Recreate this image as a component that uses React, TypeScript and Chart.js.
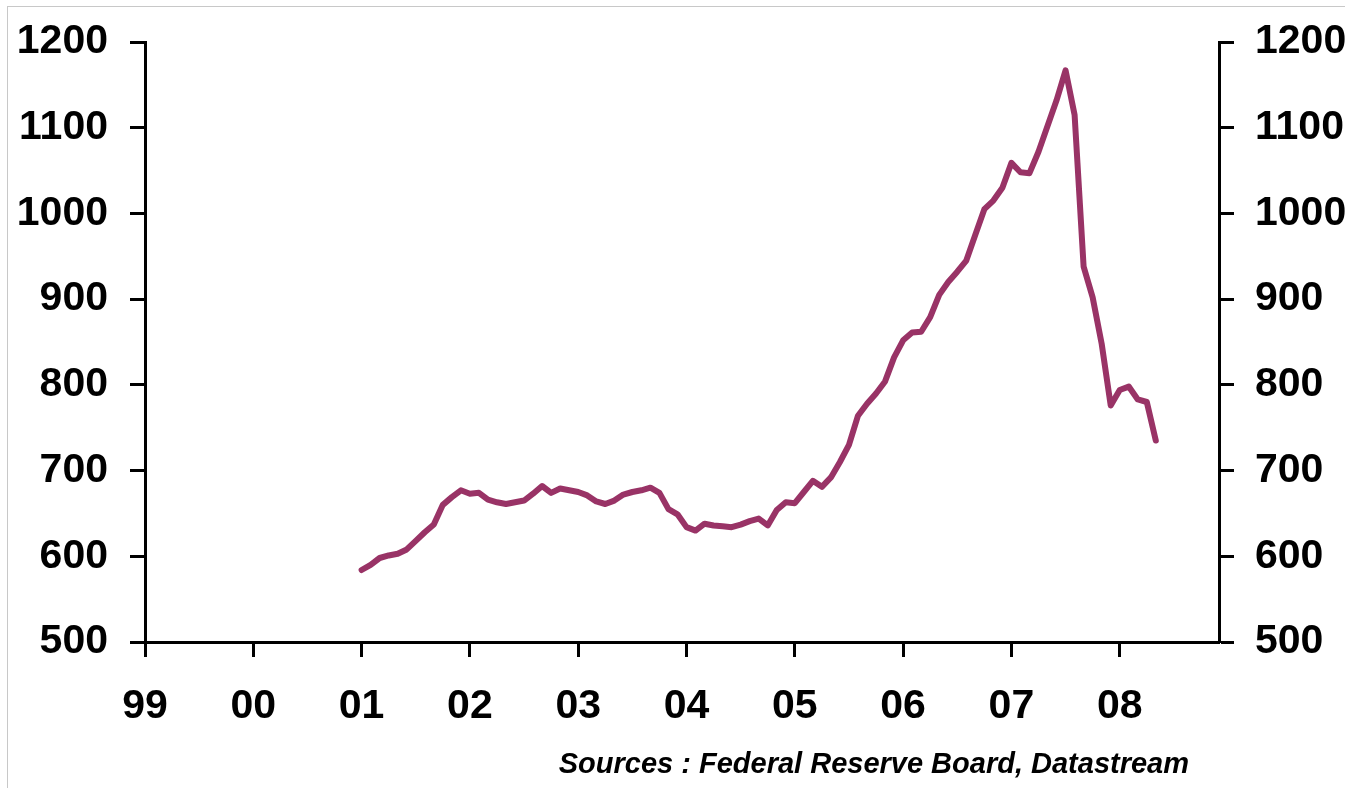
import React, { useEffect, useRef } from "react";
import { Chart, registerables } from "chart.js";

Chart.register(...registerables);

// Tick labels of the x axis (one per January, months counted from Jan 1999)
const yearLabels = ["99", "00", "01", "02", "03", "04", "05", "06", "07", "08"];
// Left / right axis ticks
const yTickValues = [500, 600, 700, 800, 900, 1000, 1100, 1200];
const yMin = 500;
const yMax = 1200;
// month index of the first observation (Jan 2001) and last month on the axis (Dec 2008)
const firstMonthIndex = 24;
const lastAxisMonth = 119;

// Monthly series, Jan 2001 .. May 2008
const values2001 = [584, 590, 598, 601, 603, 608, 618, 628, 637, 660, 669, 677];
const values2002 = [673, 674, 666, 663, 661, 663, 665, 673, 682, 674, 679, 677];
const values2003 = [675, 671, 664, 661, 665, 672, 675, 677, 680, 674, 655, 649];
const values2004 = [634, 630, 638, 636, 635, 634, 637, 641, 644, 636, 654, 663];
const values2005 = [662, 675, 688, 681, 692, 710, 730, 764, 778, 790, 804, 832];
const values2006 = [852, 861, 862, 879, 905, 920, 932, 945, 975, 1005, 1015, 1030];
const values2007 = [1059, 1048, 1047, 1072, 1102, 1132, 1167, 1115, 938, 902, 848, 776];
const values2008 = [794, 798, 783, 780, 735];

const seriesValues = [
  ...values2001,
  ...values2002,
  ...values2003,
  ...values2004,
  ...values2005,
  ...values2006,
  ...values2007,
  ...values2008,
];

const FONT_FAMILY = '"Liberation Sans", Arial, Helvetica, sans-serif';
const W = 1345;
const H = 788;

export default function App() {
  const canvasRef = useRef<HTMLCanvasElement | null>(null);

  useEffect(() => {
    const canvas = canvasRef.current;
    if (!canvas) return;

    const tickFont = { family: FONT_FAMILY, size: 41, weight: "bold" as const };
    const gridCommon = {
      drawOnChartArea: false,
      drawTicks: true,
      tickLength: 15,
      tickWidth: 3,
      tickColor: "#000000",
    };
    const borderCommon = { display: true, color: "#000000", width: 3 };

    const yAxis = (position: "left" | "right", width: number) => ({
      type: "linear" as const,
      position,
      min: yMin,
      max: yMax,
      grid: gridCommon,
      border: borderCommon,
      afterBuildTicks: (scale: any) => {
        scale.ticks = yTickValues.map((v) => ({ value: v }));
      },
      ticks: {
        font: tickFont,
        color: "#000000",
        padding: position === "left" ? 22 : 21,
        callback: (value: any) => String(value),
      },
      afterFit: (scale: any) => {
        scale.width = width;
        scale.paddingTop = 0;
        scale.paddingBottom = 0;
      },
    });

    const chart = new Chart(canvas, {
      type: "line",
      data: {
        datasets: [
          {
            data: seriesValues.map((v, i) => ({ x: firstMonthIndex + i, y: v })),
            borderColor: "#993366",
            borderWidth: 6,
            pointRadius: 0,
            tension: 0,
            fill: false,
            yAxisID: "y",
            xAxisID: "x",
            borderJoinStyle: "round",
            borderCapStyle: "round",
          },
        ],
      },
      options: {
        animation: false,
        responsive: false,
        maintainAspectRatio: false,
        events: [],
        layout: { padding: { top: 42, left: 0, right: 0, bottom: 0 } },
        plugins: {
          legend: { display: false },
          tooltip: { enabled: false },
          title: { display: false },
        },
        scales: {
          x: {
            type: "linear",
            position: "bottom",
            min: 0,
            max: lastAxisMonth,
            grid: gridCommon,
            border: borderCommon,
            afterBuildTicks: (scale: any) => {
              scale.ticks = yearLabels.map((_, i) => ({ value: i * 12 }));
            },
            ticks: {
              font: tickFont,
              color: "#000000",
              padding: 25,
              maxRotation: 0,
              minRotation: 0,
              autoSkip: false,
              callback: (value: any) => yearLabels[Math.round(Number(value) / 12)] ?? "",
            },
            afterFit: (scale: any) => {
              scale.height = H - 642;
              scale.paddingLeft = 0;
              scale.paddingRight = 0;
            },
          },
          y: yAxis("left", 145),
          y2: yAxis("right", W - 1219),
        },
      } as any,
    });

    return () => {
      chart.destroy();
    };
  }, []);

  return (
    <div
      style={{
        position: "fixed",
        left: 0,
        top: 0,
        width: W,
        height: H,
        background: "#ffffff",
        overflow: "hidden",
      }}
    >
      <div
        style={{
          position: "absolute",
          left: 7,
          top: 6,
          width: W + 20,
          height: H + 20,
          border: "1px solid #c8c8c8",
          boxSizing: "border-box",
        }}
      />
      <canvas
        ref={canvasRef}
        width={W}
        height={H}
        style={{ position: "absolute", left: 0, top: 0, width: W, height: H }}
      />
      <div
        style={{
          position: "absolute",
          right: W - 1189,
          top: 749,
          fontFamily: FONT_FAMILY,
          fontStyle: "italic",
          fontWeight: "bold",
          fontSize: 29,
          lineHeight: "29px",
          color: "#000000",
          whiteSpace: "nowrap",
        }}
      >
        Sources : Federal Reserve Board, Datastream
      </div>
    </div>
  );
}
